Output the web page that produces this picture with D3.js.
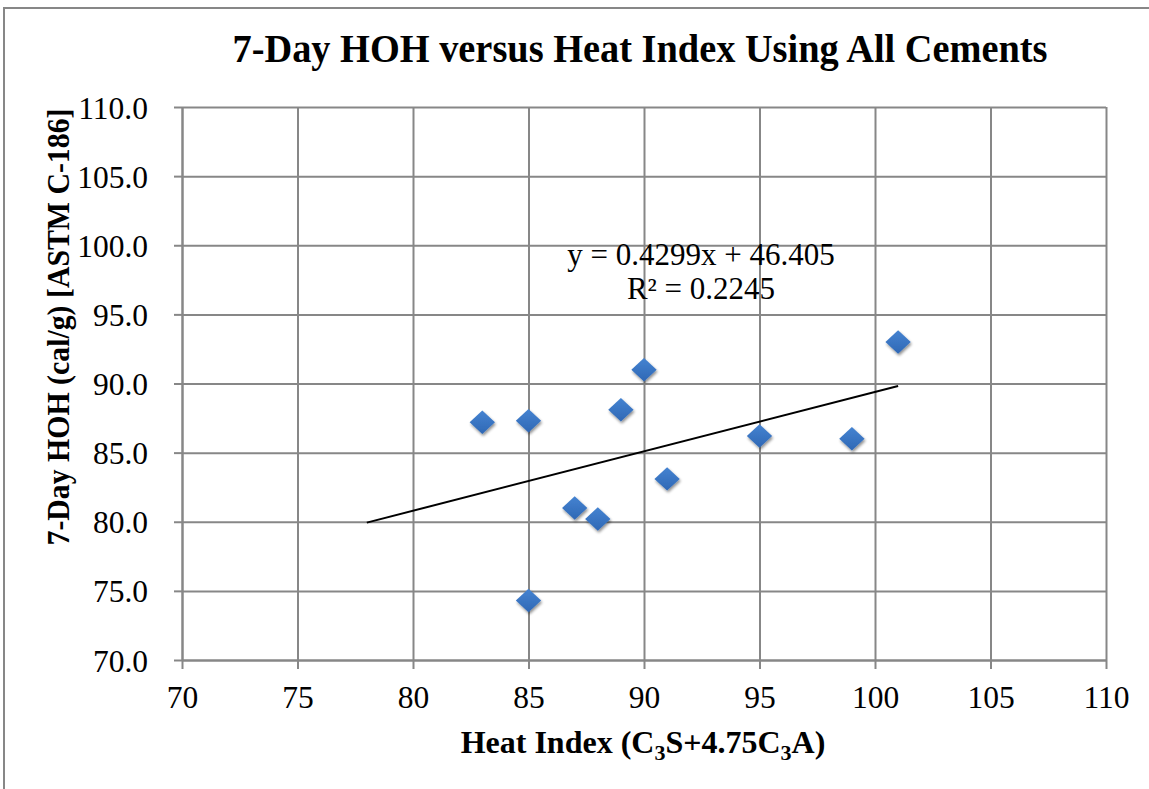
<!DOCTYPE html>
<html>
<head>
<meta charset="utf-8">
<script src="https://cdn.jsdelivr.net/npm/d3@7"></script>
<style>
  html, body { margin: 0; padding: 0; background: #fff; }
  svg { display: block; }
  text { font-family: "Liberation Serif", "Times New Roman", serif; fill: #000; }
</style>
</head>
<body>
<svg id="chart" width="1149" height="789"></svg>
<script>
// Heat index (C3S + 4.75 C3A) of each cement
const heatIndex = [83, 85, 85, 87, 88, 89, 90, 91, 95, 99, 101];
// 7-day heat of hydration, cal/g (ASTM C-186)
const hoh7 = [87.2, 87.3, 74.3, 81.0, 80.2, 88.1, 91.0, 83.1, 86.2, 86.0, 93.0];
// Linear trend line
const trendSlope = 0.4299;
const trendIntercept = 46.405;
const trendR2 = 0.2245;
const trendRange = [78, 101];
// Axis ticks
const xTicks = [70, 75, 80, 85, 90, 95, 100, 105, 110];
const yTicks = [70, 75, 80, 85, 90, 95, 100, 105, 110];

const points = heatIndex.map((h, i) => ({ x: h, y: hoh7[i] }));

const svg = d3.select("#chart");
const plot = { left: 182, right: 1106, top: 107, bottom: 660 };
const gridColor = "#878787";

const x = d3.scaleLinear().domain([70, 110]).range([plot.left, plot.right]);
const y = d3.scaleLinear().domain([70, 110]).range([plot.bottom, plot.top]);

// Outer chart frame (top and left edges)
svg.append("path")
  .attr("d", "M4,789 V8 H1149")
  .attr("fill", "none")
  .attr("stroke", gridColor)
  .attr("stroke-width", 2);

// Drop shadow for markers
const defs = svg.append("defs");
const shadow = defs.append("filter").attr("id", "mshadow")
  .attr("x", "-50%").attr("y", "-50%").attr("width", "200%").attr("height", "200%");
shadow.append("feGaussianBlur").attr("in", "SourceAlpha").attr("stdDeviation", 1.6).attr("result", "b");
shadow.append("feOffset").attr("in", "b").attr("dx", 0.5).attr("dy", 2).attr("result", "o");
shadow.append("feComponentTransfer").attr("in", "o").attr("result", "s")
  .append("feFuncA").attr("type", "linear").attr("slope", 0.45);
const merge = shadow.append("feMerge");
merge.append("feMergeNode").attr("in", "s");
merge.append("feMergeNode").attr("in", "SourceGraphic");

const grad = defs.append("linearGradient").attr("id", "mfill")
  .attr("x1", 0).attr("y1", 0).attr("x2", 0).attr("y2", 1);
grad.append("stop").attr("offset", "0%").attr("stop-color", "#4583d1");
grad.append("stop").attr("offset", "100%").attr("stop-color", "#2f68b5");

// Gridlines
svg.append("g")
  .attr("transform", `translate(0,${plot.bottom})`)
  .call(d3.axisBottom(x).tickValues(xTicks).tickSize(-(plot.bottom - plot.top)).tickFormat(""))
  .call(g => g.select(".domain").remove())
  .call(g => g.selectAll("line").attr("stroke", gridColor).attr("stroke-width", 2));
svg.append("g")
  .attr("transform", `translate(${plot.left},0)`)
  .call(d3.axisLeft(y).tickValues(yTicks).tickSize(-(plot.right - plot.left)).tickFormat(""))
  .call(g => g.select(".domain").remove())
  .call(g => g.selectAll("line").attr("stroke", gridColor).attr("stroke-width", 2));

// Axes with outward tick marks and labels
const xAxis = svg.append("g")
  .attr("transform", `translate(0,${plot.bottom})`)
  .call(d3.axisBottom(x).tickValues(xTicks).tickSize(9).tickSizeOuter(0).tickPadding(14).tickFormat(d3.format("d")));
xAxis.select(".domain").attr("stroke", gridColor).attr("stroke-width", 2);
xAxis.selectAll("line").attr("stroke", gridColor).attr("stroke-width", 2);
xAxis.selectAll("text")
  .attr("font-size", 31.5).attr("font-family", "Liberation Serif").attr("fill", "#000")
  .attr("dy", null).attr("y", 48);

const yAxis = svg.append("g")
  .attr("transform", `translate(${plot.left},0)`)
  .call(d3.axisLeft(y).tickValues(yTicks).tickSize(8).tickSizeOuter(0).tickPadding(26).tickFormat(d3.format(".1f")));
yAxis.select(".domain").attr("stroke", gridColor).attr("stroke-width", 2);
yAxis.selectAll("line").attr("stroke", gridColor).attr("stroke-width", 2);
yAxis.selectAll("text")
  .attr("font-size", 31.5).attr("font-family", "Liberation Serif").attr("fill", "#000")
  .attr("dy", null).attr("y", 11);

// Trend line
svg.append("line")
  .attr("x1", x(trendRange[0])).attr("y1", y(trendSlope * trendRange[0] + trendIntercept))
  .attr("x2", x(trendRange[1])).attr("y2", y(trendSlope * trendRange[1] + trendIntercept))
  .attr("stroke", "#000").attr("stroke-width", 2);

// Diamond markers
const diamond = d3.symbol().type(d3.symbolDiamond2).size(350);
svg.append("g").selectAll("path")
  .data(points)
  .join("path")
  .attr("d", diamond)
  .attr("transform", d => `translate(${x(d.x)},${y(d.y)}) scale(1.08,1)`)
  .attr("fill", "url(#mfill)")
  .attr("filter", "url(#mshadow)");

// Trend equation
svg.append("text")
  .attr("x", 701).attr("y", 265)
  .attr("text-anchor", "middle").attr("font-size", 31)
  .text(`y = ${trendSlope}x + ${trendIntercept}`);
svg.append("text")
  .attr("x", 701).attr("y", 299)
  .attr("text-anchor", "middle").attr("font-size", 31)
  .text(`R² = ${trendR2}`);

// Title
svg.append("text")
  .attr("x", 640).attr("y", 62)
  .attr("text-anchor", "middle")
  .attr("font-size", 40).attr("font-weight", "bold")
  .attr("textLength", 815).attr("lengthAdjust", "spacingAndGlyphs")
  .text("7-Day HOH versus Heat Index Using All Cements");

// X axis title with subscripts
const xt = svg.append("text")
  .attr("x", 643).attr("y", 753)
  .attr("text-anchor", "middle")
  .attr("font-size", 32).attr("font-weight", "bold");
xt.append("tspan").text("Heat Index (C");
xt.append("tspan").attr("font-size", 22).attr("dy", 7).text("3");
xt.append("tspan").attr("dy", -7).text("S+4.75C");
xt.append("tspan").attr("font-size", 22).attr("dy", 7).text("3");
xt.append("tspan").attr("dy", -7).text("A)");

// Y axis title
svg.append("text")
  .attr("transform", "translate(69,327) rotate(-90)")
  .attr("text-anchor", "middle")
  .attr("font-size", 31).attr("font-weight", "bold")
  .attr("textLength", 437).attr("lengthAdjust", "spacingAndGlyphs")
  .text("7-Day HOH (cal/g) [ASTM C-186]");
</script>
</body>
</html>
